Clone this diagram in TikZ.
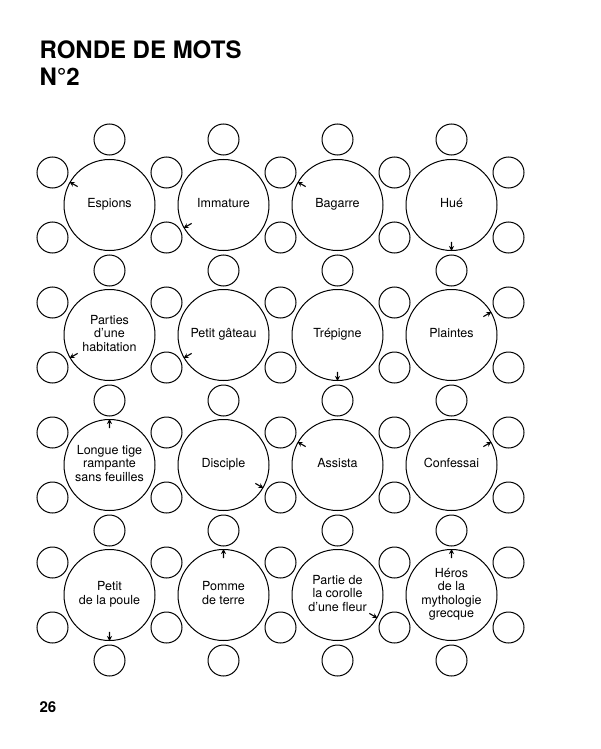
\documentclass[tikz,border=0pt]{standalone}
\usepackage{fontspec}
\setmainfont{TeX Gyre Heros}
\usetikzlibrary{arrows.meta,calc}
\begin{document}
\begin{tikzpicture}[x=1pt,y=-1pt,
  big/.style={circle,draw,line width=1pt,minimum size=91pt,inner sep=0pt,align=center,font=\fontsize{12.5}{13.5}\selectfont,execute at begin node=\strut,execute at end node=\strut},
  small/.style={circle,draw,line width=1pt,minimum size=31pt,inner sep=0pt},
  arr/.style={-{Stealth[length=5pt,width=5pt]},line width=1.1pt}]
\useasboundingbox (0,0) rectangle (600,749);
\node[anchor=base west,font=\bfseries\fontsize{24}{24}\selectfont] (t1) at (36,59) {RONDE DE MOTS};
\node[anchor=base west,font=\bfseries\fontsize{24}{24}\selectfont] (t2) at (36,86) {N°2};
\node[anchor=base west,font=\bfseries\fontsize{15}{15}\selectfont] (pg) at (36,712) {26};
\foreach \lab [count=\i from 0] in {
 {Espions},{Immature},{Bagarre},{Hué},
 {Parties\\d’une\\habitation},{Petit gâteau},{Trépigne},{Plaintes},
 {Longue tige\\rampante\\sans feuilles},{Disciple},{Assista},{Confessai},
 {Petit\\de la poule},{Pomme\\de terre},{Partie de\\la corolle\\d’une fleur},{Héros\\de la\\mythologie\\grecque}}{
 \pgfmathtruncatemacro\c{mod(\i,4)}
 \pgfmathtruncatemacro\r{div(\i,4)}
 \pgfmathsetmacro\cx{109.5+114*\c}
 \pgfmathsetmacro\cy{205+130*\r}
 \node[big] (b\i) at (\cx,\cy) {\lab};
 \ifnum\r=0 \node[small] (st\i) at (\cx,\cy-65.5) {};\fi
 \node[small] (sb\i) at (\cx,\cy+65.5) {};
 \node[small] (sl\i) at (\cx-57,\cy-32.5) {};
 \node[small] (sL\i) at (\cx-57,\cy+32.5) {};
 \ifnum\c=3
 \node[small] (sr\i) at (\cx+57,\cy-32.5) {};
 \node[small] (sR\i) at (\cx+57,\cy+32.5) {};
 \fi
}
\foreach \i/\a in {0/150,1/210,2/150,3/270,4/210,5/210,6/270,7/30,8/90,9/330,10/150,11/30,12/270,13/90,14/330,15/90}{
 \draw[arr] ($(b\i.center)!0.8!(b\i.\a)$) -- (b\i.\a);
}
\end{tikzpicture}
\end{document}
